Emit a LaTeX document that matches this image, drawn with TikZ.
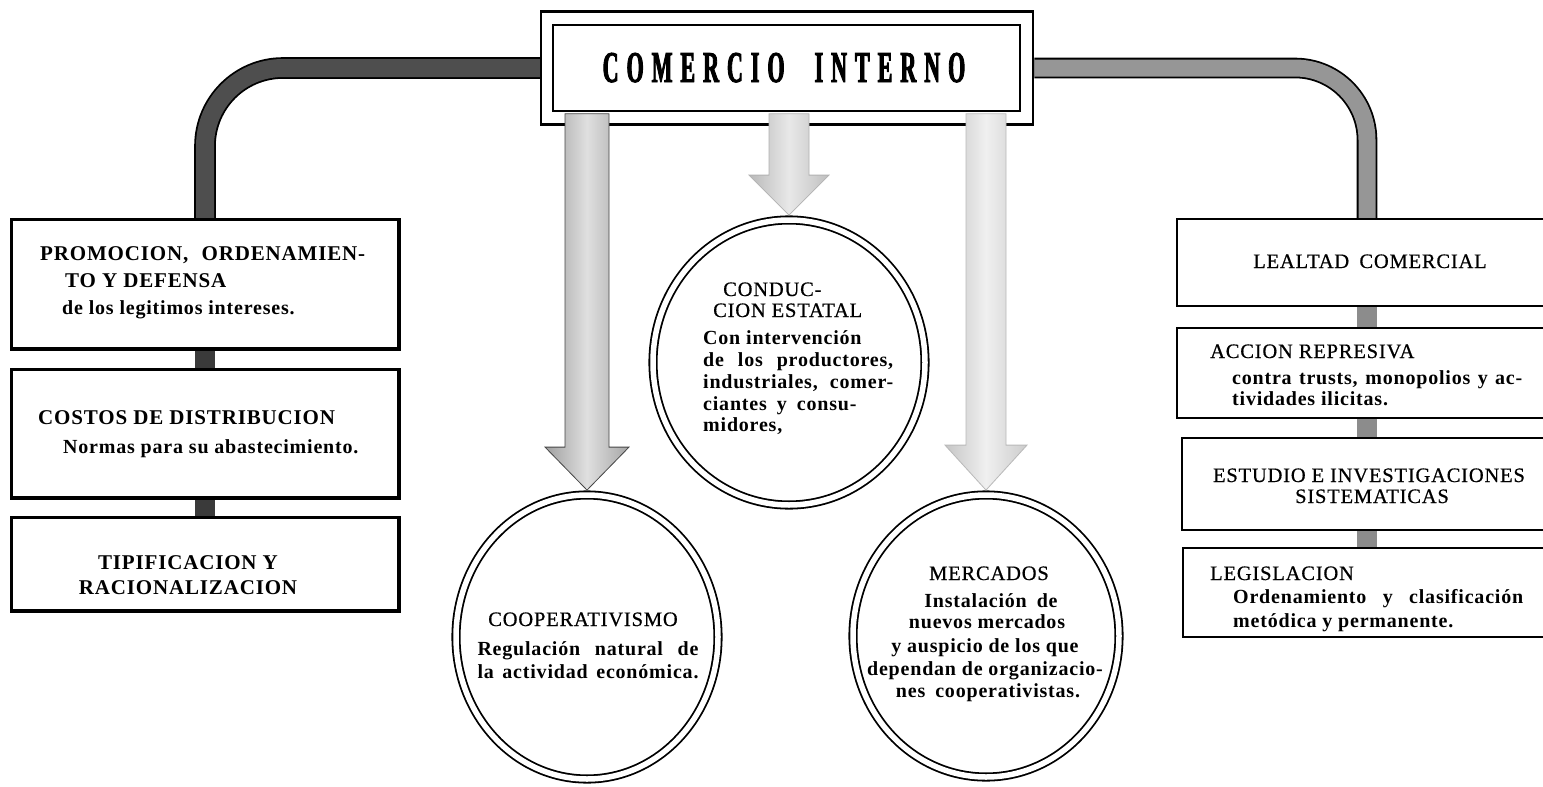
\documentclass[tikz,border=0pt]{standalone}
\usepackage{fontspec}
\setmainfont{Liberation Serif}
\newfontfamily\hfont{Liberation Serif}[LetterSpace=4]
\newfontfamily\mfont{Liberation Serif}[LetterSpace=4,FakeBold=0.6]
\newfontfamily\tfont{Liberation Serif}[FakeStretch=0.5,FakeBold=2]
\usetikzlibrary{shapes.geometric,calc}
\definecolor{pipedark}{HTML}{4E4E4E}
\definecolor{pipelight}{HTML}{969696}
\definecolor{linkdark}{HTML}{3A3A3A}
\definecolor{linklight}{HTML}{8C8C8C}
\tikzset{
  boxline/.style={line width=2.5pt},
  framebox/.style={draw, line width=2.5pt, inner sep=0pt},
  ell/.style={ellipse, draw, line width=1.8pt, double=white, double distance=5.5pt, inner sep=0pt},
  hd/.style={anchor=base west, inner sep=0pt, font=\fontsize{20.5}{22}\selectfont\mfont},
  hdb/.style={anchor=base west, inner sep=0pt, font=\fontsize{21}{22}\selectfont\hfont\bfseries},
  bd/.style={anchor=base west, inner sep=0pt, font=\fontsize{20}{22}\selectfont\hfont\bfseries},
  pipeL/.style={draw=black, line width=1.8pt, double=pipedark, double distance=18pt, rounded corners=78pt},
  pipeR/.style={draw=black, line width=1.8pt, double=pipelight, double distance=17pt, rounded corners=72pt},
  linkL/.style={draw=linkdark, line width=20pt},
  linkR/.style={draw=linklight, line width=20pt},
  arrL/.style={draw=gray!55!black, line width=0.8pt, left color=gray!75, right color=gray!70, middle color=gray!25},
  arrM/.style={draw=gray!60, line width=0.8pt, left color=gray!55, right color=gray!50, middle color=gray!18},
  arrR/.style={draw=gray!55, line width=0.8pt, left color=gray!45, right color=gray!40, middle color=gray!12},
}
\begin{document}
\begin{tikzpicture}[x=1pt,y=-1pt]
\useasboundingbox[fill=white] (0,0) rectangle (1543,787);

% title frame
\node[framebox, minimum width=492pt, minimum height=113pt] (frame) at (787,68) {};
\node[framebox, minimum width=467pt, minimum height=86pt] (title) at (786.5,68) {};
\node[anchor=base, inner sep=0pt] (ttext) at (784,82) {\fontsize{44}{44}\selectfont\tfont\bfseries
 C\kern8pt O\kern8pt M\kern8pt E\kern8pt R\kern8pt C\kern8pt I\kern8pt O\kern30pt
 I\kern8pt N\kern8pt T\kern8pt E\kern8pt R\kern8pt N\kern8pt O};

% left boxes
\node[draw, boxline, minimum width=386pt, minimum height=128pt, inner sep=0pt] (b1) at (205,284) {};
\node[draw, boxline, minimum width=386pt, minimum height=127pt, inner sep=0pt] (b2) at (205,433.5) {};
\node[draw, boxline, minimum width=386pt, minimum height=92pt, inner sep=0pt] (b3) at (205,564) {};

% right boxes (open on the right edge)
\node[minimum width=366pt, minimum height=87pt, inner sep=0pt] (r1) at (1360,262.5) {};
\node[minimum width=366pt, minimum height=90pt, inner sep=0pt] (r2) at (1360,373) {};
\node[minimum width=361pt, minimum height=92pt, inner sep=0pt] (r3) at (1362.5,484) {};
\node[minimum width=360pt, minimum height=89pt, inner sep=0pt] (r4) at (1363,592.5) {};
\coordinate (rx) at (1367,0);

% ellipses
\node[ell, minimum width=272pt, minimum height=285pt] (cond) at (789,362.5) {};
\node[ell, minimum width=262pt, minimum height=284pt] (coop) at (587,637) {};
\node[ell, minimum width=266pt, minimum height=282pt] (merc) at (986,636) {};

% pipes
\draw[pipeL] (frame.west) -| (b1.north);
\draw[pipeR] (frame.east) -| (rx |- r1.north);

% links
\draw[linkL] (b1.south) -- (b2.north);
\draw[linkL] (b2.south) -- (b3.north);
\draw[linkR] (rx |- r1.south) -- (rx |- r2.north);
\draw[linkR] (rx |- r2.south) -- (rx |- r3.north);
\draw[linkR] (rx |- r3.south) -- (rx |- r4.north);

% redraw boxes borders on top
\draw[boxline] (b1.north west) rectangle (b1.south east);
\draw[boxline] (b2.north west) rectangle (b2.south east);
\draw[boxline] (b3.north west) rectangle (b3.south east);
\draw[boxline] (r1.north east) -| (r1.south west) -- (r1.south east);
\draw[boxline] (r2.north east) -| (r2.south west) -- (r2.south east);
\draw[boxline] (r3.north east) -| (r3.south west) -- (r3.south east);
\draw[boxline] (r4.north east) -| (r4.south west) -- (r4.south east);

% arrows
\shadedraw[arrL] let \p1=($(coop.north)+(0,-4)$), \p2=($(title.south)+(0,1.5)$) in
  (\x1,\y1) -- (\x1-42pt,\y1+43pt) -- (\x1-22pt,\y1+43pt) -- (\x1-22pt,\y2)
  -- (\x1+22pt,\y2) -- (\x1+22pt,\y1+43pt) -- (\x1+42pt,\y1+43pt) -- cycle;
\shadedraw[arrM] let \p1=($(cond.north)+(0,-4)$), \p2=($(title.south)+(0,1.5)$) in
  (\x1,\y1) -- (\x1-40pt,\y1+40pt) -- (\x1-20pt,\y1+40pt) -- (\x1-20pt,\y2)
  -- (\x1+20pt,\y2) -- (\x1+20pt,\y1+40pt) -- (\x1+40pt,\y1+40pt) -- cycle;
\shadedraw[arrR] let \p1=($(merc.north)+(0,-4)$), \p2=($(title.south)+(0,1.5)$) in
  (\x1,\y1) -- (\x1-41pt,\y1+45pt) -- (\x1-20pt,\y1+45pt) -- (\x1-20pt,\y2)
  -- (\x1+20pt,\y2) -- (\x1+20pt,\y1+45pt) -- (\x1+41pt,\y1+45pt) -- cycle;

% left texts
\node[hdb] (t11) at (40,260) {\makebox[325pt][s]{PROMOCION, ORDENAMIEN-}};
\node[hdb] (t12) at (65,287) {TO Y DEFENSA};
\node[bd] (t13) at (62,314) {de los legitimos intereses.};
\node[hdb] (t21) at (38,424) {COSTOS DE DISTRIBUCION};
\node[bd] (t22) at (63,453) {Normas para su abastecimiento.};
\node[hdb, anchor=base] (t31) at (188,569) {TIPIFICACION Y};
\node[hdb, anchor=base] (t32) at (188,594) {RACIONALIZACION};

% right texts
\node[hd, anchor=base] (u11) at (1370,268) {LEALTAD\enspace COMERCIAL};
\node[hd] (u21) at (1210,358) {ACCION REPRESIVA};
\node[bd] (u22) at (1232,384) {\makebox[290pt][s]{contra trusts, monopolios y ac-}};
\node[bd] (u23) at (1232,405) {tividades ilicitas.};
\node[hd, anchor=base] (u31) at (1369,482) {ESTUDIO E INVESTIGACIONES};
\node[hd, anchor=base] (u32) at (1372,503) {SISTEMATICAS};
\node[hd] (u41) at (1210,580) {LEGISLACION};
\node[bd] (u42) at (1233,603) {\makebox[290pt][s]{Ordenamiento y clasificación}};
\node[bd] (u43) at (1233,627) {metódica y permanente.};

% conduccion texts
\node[hd] (c1) at (723,296) {CONDUC-};
\node[hd] (c2) at (713,317) {CION ESTATAL};
\node[bd] (c3) at (703,344) {Con intervención};
\node[bd] (c4) at (703,366) {\makebox[190pt][s]{de los productores,}};
\node[bd] (c5) at (703,388) {\makebox[190pt][s]{industriales, comer-}};
\node[bd] (c6) at (703,410) {ciantes\enspace y\enspace consu-};
\node[bd] (c7) at (703,431) {midores,};

% cooperativismo texts
\node[hd, anchor=base] (k1) at (583,626) {COOPERATIVISMO};
\node[bd, anchor=base] (k2) at (588,655) {\makebox[221pt][s]{Regulación natural de}};
\node[bd, anchor=base] (k3) at (588,678) {\makebox[221pt][s]{la actividad económica.}};

% mercados texts
\node[hd, anchor=base] (m1) at (989,580) {MERCADOS};
\node[bd, anchor=base] (m2) at (991,607) {Instalación\enspace de};
\node[bd, anchor=base] (m3) at (987,628) {nuevos mercados};
\node[bd, anchor=base] (m4) at (985,652) {y auspicio de los que};
\node[bd, anchor=base] (m5) at (985,675) {dependan de organizacio-};
\node[bd, anchor=base] (m6) at (988,697) {nes\enspace cooperativistas.};
\end{tikzpicture}
\end{document}
